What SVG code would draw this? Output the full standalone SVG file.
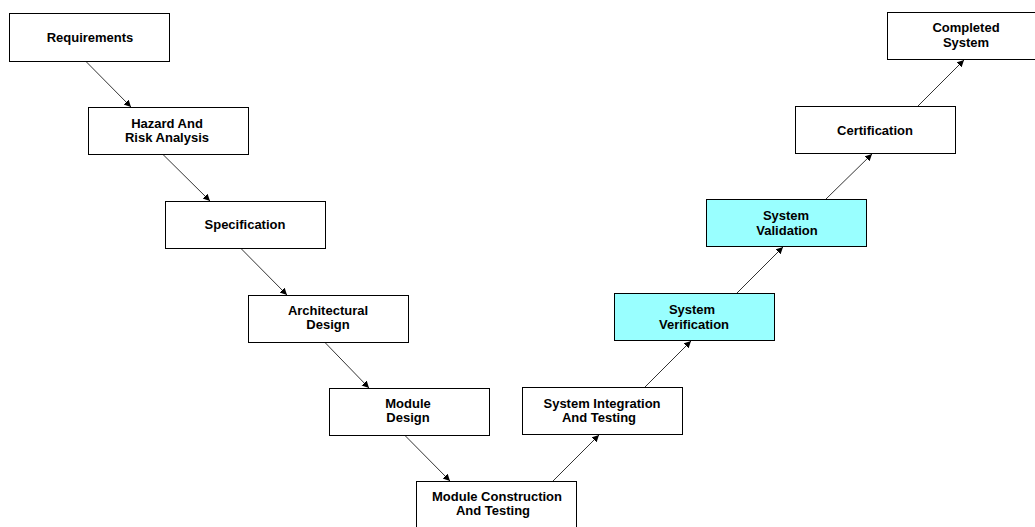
<svg xmlns="http://www.w3.org/2000/svg" width="1035" height="527" viewBox="0 0 1035 527">
  <style>
    .box { fill: #ffffff; stroke: #000000; stroke-width: 1; }
    .hl { fill: #99ffff; }
    .lbl { font-family: "Liberation Sans", Arial, sans-serif; font-size: 13px; font-weight: bold; fill: #000000; text-anchor: middle; }
    .conn { stroke: #333333; stroke-width: 1; fill: none; marker-end: url(#arrow); }
  </style>
  <defs>
    <marker id="arrow" markerUnits="userSpaceOnUse" markerWidth="8" markerHeight="8" refX="7" refY="3.5" orient="auto">
      <path d="M0,0 L7,3.5 L0,7 z" fill="#000000"/>
    </marker>
  </defs>
  <rect width="1035" height="527" fill="#ffffff"/>

  <g id="connectors">
    <line class="conn" x1="86" y1="61.5" x2="131" y2="107"/>
    <line class="conn" x1="163" y1="154.5" x2="210" y2="201"/>
    <line class="conn" x1="241" y1="248.5" x2="287" y2="295"/>
    <line class="conn" x1="325" y1="342.5" x2="369" y2="388"/>
    <line class="conn" x1="405" y1="435.5" x2="450" y2="481"/>
    <line class="conn" x1="553" y1="481" x2="599" y2="435"/>
    <line class="conn" x1="645" y1="387" x2="691" y2="341"/>
    <line class="conn" x1="737" y1="293" x2="783" y2="247"/>
    <line class="conn" x1="826" y1="199" x2="872" y2="154"/>
    <line class="conn" x1="918" y1="106" x2="964" y2="60"/>
  </g>

  <g id="requirements">
    <rect class="box" x="9.5" y="13.5" width="160" height="48"/>
    <text class="lbl" x="90" y="42">Requirements</text>
  </g>
  <g id="hazard-analysis">
    <rect class="box" x="88.5" y="107.5" width="160" height="47"/>
    <text class="lbl" x="167" y="128">Hazard And</text>
    <text class="lbl" x="167" y="142">Risk Analysis</text>
  </g>
  <g id="specification">
    <rect class="box" x="165.5" y="201.5" width="160" height="47"/>
    <text class="lbl" x="245" y="229">Specification</text>
  </g>
  <g id="architectural-design">
    <rect class="box" x="248.5" y="295.5" width="160" height="47"/>
    <text class="lbl" x="328" y="315">Architectural</text>
    <text class="lbl" x="328" y="329">Design</text>
  </g>
  <g id="module-design">
    <rect class="box" x="329.5" y="388.5" width="160" height="47"/>
    <text class="lbl" x="408" y="408">Module</text>
    <text class="lbl" x="408" y="422">Design</text>
  </g>
  <g id="module-construction">
    <rect class="box" x="416.5" y="481.5" width="160" height="47"/>
    <text class="lbl" x="497" y="501">Module Construction</text>
    <text class="lbl" x="493" y="515">And Testing</text>
  </g>
  <g id="system-integration">
    <rect class="box" x="522.5" y="387.5" width="160" height="47"/>
    <text class="lbl" x="602" y="408">System Integration</text>
    <text class="lbl" x="599" y="422">And Testing</text>
  </g>
  <g id="system-verification">
    <rect class="box hl" x="614.5" y="293.5" width="160" height="47"/>
    <text class="lbl" x="692" y="314">System</text>
    <text class="lbl" x="694" y="329">Verification</text>
  </g>
  <g id="system-validation">
    <rect class="box hl" x="706.5" y="199.5" width="160" height="47"/>
    <text class="lbl" x="786" y="220">System</text>
    <text class="lbl" x="787" y="235">Validation</text>
  </g>
  <g id="certification">
    <rect class="box" x="795.5" y="106.5" width="160" height="47"/>
    <text class="lbl" x="875" y="135">Certification</text>
  </g>
  <g id="completed-system">
    <rect class="box" x="887.5" y="12.5" width="160" height="47"/>
    <text class="lbl" x="966" y="32">Completed</text>
    <text class="lbl" x="966" y="47">System</text>
  </g>
</svg>
